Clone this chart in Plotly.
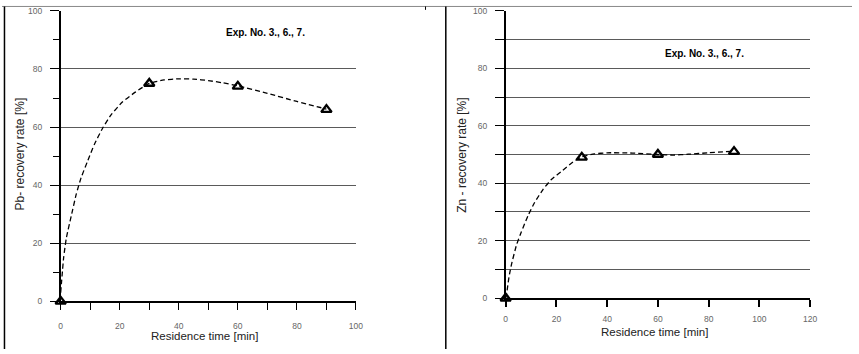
import plotly.graph_objects as go

W, H = 859, 354

# ---- data ----
pb_time = [0, 30, 60, 90]
pb_rate = [0, 75, 74, 66]
zn_time = [0, 30, 60, 90]
zn_rate = [0, 49, 50, 51]

# fitted (dashed) curves
pb_fit_x = [0, 1.0, 1.9, 3.6, 5.3, 6.9, 9.2, 11.4, 14.2, 17, 20.9, 25.4, 30, 35, 40, 45, 50, 55, 60, 70, 80, 90]
pb_fit_y = [3, 15, 21.7, 29.5, 37.0, 42.5, 48.5, 54, 59.6, 64.1, 68.6, 72.1, 75, 76.2, 76.6, 76.5, 76, 75.2, 74.2, 71.6, 68.8, 66.2]
zn_fit_x = [0, 0.4, 1.3, 2.3, 4.3, 6.2, 8.8, 11.4, 14.7, 17.9, 22.5, 26.4, 30, 35, 40, 50, 60, 66, 72, 80, 90]
zn_fit_y = [0, 1.7, 7.3, 11.8, 18.6, 23.1, 28.7, 33.3, 37.8, 41.2, 44.5, 47.3, 49.2, 50.2, 50.6, 50.5, 50.0, 49.8, 50.1, 50.6, 51.2]

annot_text = "Exp. No. 3., 6., 7."
pb_ylabel = "Pb- recovery rate [%]"
zn_ylabel = "Zn - recovery rate [%]"
xlabel = "Residence time [min]"

FONT = "Liberation Sans, Arial, sans-serif"

def px(x):
    return x / W

def py(y):
    return 1 - y / H

fig = go.Figure()

dash_line = dict(color="black", width=1.3, dash="5px,3px", shape="spline", smoothing=0.5)
mk = dict(symbol="triangle-up-open", size=9, color="black", line=dict(color="black", width=2.4))

fig.add_trace(go.Scatter(x=pb_fit_x, y=pb_fit_y, mode="lines", line=dash_line,
                         xaxis="x", yaxis="y", showlegend=False, hoverinfo="skip"))
fig.add_trace(go.Scatter(x=pb_time, y=pb_rate, mode="markers", marker=mk,
                         xaxis="x", yaxis="y", showlegend=False, cliponaxis=False))
fig.add_trace(go.Scatter(x=zn_fit_x, y=zn_fit_y, mode="lines", line=dash_line,
                         xaxis="x2", yaxis="y2", showlegend=False, hoverinfo="skip"))
fig.add_trace(go.Scatter(x=zn_time, y=zn_rate, mode="markers", marker=mk,
                         xaxis="x2", yaxis="y2", showlegend=False, cliponaxis=False))

tickfont = dict(family=FONT, size=8.5, color="#666")
gridcol = "#5a5a5a"

fig.update_layout(
    width=W, height=H,
    margin=dict(l=0, r=0, t=0, b=0),
    paper_bgcolor="white", plot_bgcolor="white",
    showlegend=False,
    xaxis=dict(domain=[px(59.3), px(357.7)], range=[0, 100], anchor="y",
               tick0=0, dtick=20, ticks="outside", ticklen=7, tickwidth=1, tickcolor="black",
               minor=dict(dtick=10, ticks="outside", ticklen=7, tickcolor="black"),
               showgrid=False, zeroline=False, showline=True, linecolor="black", linewidth=1.5,
               tickfont=tickfont, ticklabelstandoff=9, fixedrange=True),
    yaxis=dict(domain=[py(305), py(6)], range=[0, 100], anchor="x",
               tick0=0, dtick=20, ticks="outside", ticklen=9, tickwidth=1, tickcolor="black",
               minor=dict(dtick=10, ticks="outside", ticklen=6, tickcolor="black", showgrid=False),
               showgrid=True, gridcolor=gridcol, gridwidth=1,
               zeroline=False, showline=True, linecolor="black", linewidth=1.5,
               tickfont=tickfont, ticklabelstandoff=6, fixedrange=True),
    xaxis2=dict(domain=[px(509), px(816.7)], range=[0, 120], anchor="y2",
                tick0=0, dtick=20, ticks="outside", ticklen=7, tickwidth=1.5, tickcolor="black",
                showgrid=False, zeroline=False, showline=True, linecolor="black", linewidth=1.5,
                tickfont=tickfont, ticklabelstandoff=5, fixedrange=True),
    yaxis2=dict(domain=[py(301.7), py(6)], range=[0, 100], anchor="x2",
                tick0=0, dtick=20, ticks="outside", ticklen=9, tickwidth=1, tickcolor="black",
                minor=dict(dtick=10, ticks="outside", ticklen=9, tickcolor="black",
                           showgrid=True, gridcolor=gridcol, gridwidth=1),
                showgrid=True, gridcolor=gridcol, gridwidth=1,
                zeroline=False, showline=True, linecolor="black", linewidth=1.5,
                tickfont=tickfont, ticklabelstandoff=6, fixedrange=True),
)

annots = [
    dict(text=annot_text, x=px(266), y=py(28), font=dict(family=FONT, size=10, color="black"), bold=True),
    dict(text=annot_text, x=px(710), y=py(50), font=dict(family=FONT, size=10, color="black"), bold=True),
    dict(text=xlabel, x=px(205), y=py(341), font=dict(family=FONT, size=11.5, color="#222")),
    dict(text=xlabel, x=px(659), y=py(336), font=dict(family=FONT, size=11.5, color="#222")),
    dict(text=pb_ylabel, x=px(18), y=py(153), font=dict(family=FONT, size=12, color="#222"), textangle=-90),
    dict(text=zn_ylabel, x=px(464), y=py(155), font=dict(family=FONT, size=12, color="#222"), textangle=-90),
]
for a in annots:
    bold = a.pop("bold", False)
    if bold:
        a["text"] = "<b>" + a["text"] + "</b>"
    fig.add_annotation(xref="paper", yref="paper", showarrow=False,
                       xanchor="center", yanchor="middle", **a)

# frame lines of the scanned figure
fig.add_shape(type="line", xref="paper", yref="paper", x0=0, x1=1, y0=py(1.5), y1=py(1.5),
              line=dict(color="#888", width=1))
fig.add_shape(type="line", xref="paper", yref="paper", x0=px(2.5), x1=px(2.5), y0=0, y1=py(1.5),
              line=dict(color="black", width=1.5))
fig.add_shape(type="line", xref="paper", yref="paper", x0=px(448.5), x1=px(448.5), y0=0, y1=py(1.5),
              line=dict(color="black", width=1.5))
fig.add_shape(type="line", xref="paper", yref="paper", x0=px(428), x1=px(428), y0=py(5), y1=py(1.5),
              line=dict(color="black", width=1))

fig.write_html("out.html")
